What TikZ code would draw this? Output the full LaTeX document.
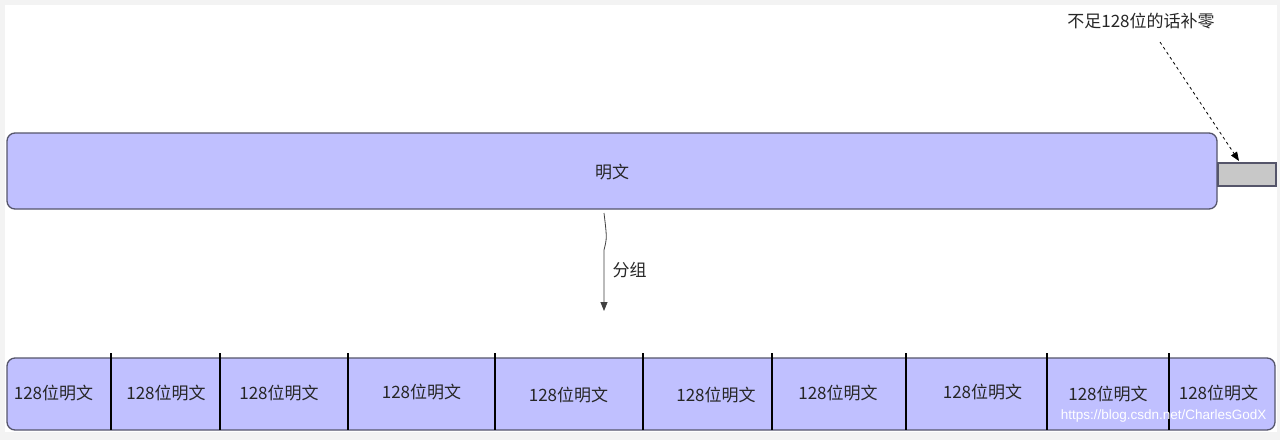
\documentclass[tikz,border=0pt]{standalone}
\usepackage{fontspec}
\setmainfont{Noto Sans CJK SC}
\newfontfamily\wmfont{Liberation Sans}
\usetikzlibrary{arrows.meta}
\definecolor{plainfill}{HTML}{C0C0FF}
\definecolor{padfill}{HTML}{C8C8C8}
\definecolor{edgegray}{HTML}{55556A}
\definecolor{framegray}{HTML}{F3F3F3}

\begin{document}
\begin{tikzpicture}[x=1pt, y=-1pt,
	block/.style={draw=edgegray, fill=plainfill, rounded corners=8pt, line width=1.3pt, inner sep=0pt},
	lbl/.style={font=\fontsize{17}{19}\selectfont, text=black!85},
	tip/.style={-{Triangle[length=9pt,width=7pt]}},
	]
	
	\fill[framegray] (0,0) rectangle (1280,440);
	\fill[white] (5,5) rectangle (1277,432);
	\useasboundingbox (0,0) rectangle (1280,440);
	
	\node[block, minimum width=1210pt, minimum height=76pt] (plain) at (612,171) {};
	\node[lbl] (plaintext) at (612,172) {明文};
	\node[draw=edgegray, fill=padfill, line width=1.3pt, inner sep=0pt, minimum width=58pt, minimum height=23pt] (pad) at (1247,174.5) {};
	\node[lbl] (padnote) at (1141,21) {不足128位的话补零};
	
	\coordinate (notefoot) at (1160,42);
	\coordinate (padtip) at (1239,161);
	\path[tip, dashed, thick] (notefoot) edge (padtip);
	
	\coordinate (splittop) at (604,213);
	\coordinate (splitbot) at (604,311);
	\draw[tip, thick, black!75] (splittop) .. controls (607,238) .. (604,250) -- (splitbot);
	\node[lbl, anchor=west] (splitlbl) at (609,270) {分组};
	
	\node[block, minimum width=1268pt, minimum height=72pt] (blocks) at (641,394) {};
	\foreach \x in {111,220,348,495,643,772,906,1047,1169}
		\draw[line width=1.2pt, black] (\x,353) -- (\x,430);
	\foreach \c/\y [count=\i] in {53.5/393,166/393,279/393,421.5/392,568.5/395,716/395,838/393,982.5/392,1108/394,1218.5/393}
		\node[lbl] (seg\i) at (\c,\y) {128位明文};
	
	\node[font=\wmfont\fontsize{13.5}{15}\selectfont, text=white, anchor=east] (mark) at (1270,416) {https://blog.csdn.net/CharlesGodX};
	
\end{tikzpicture}
\end{document}
